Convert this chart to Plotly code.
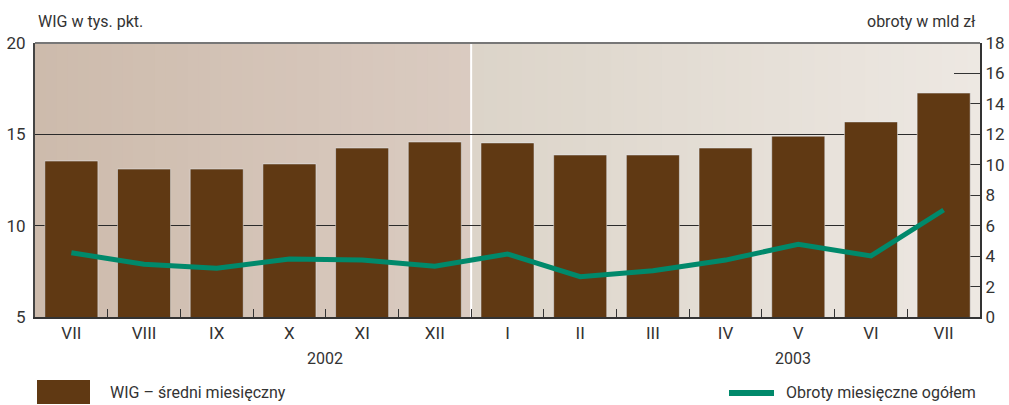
import plotly.graph_objects as go

months = ["VII", "VIII", "IX", "X", "XI", "XII", "I", "II", "III", "IV", "V", "VI", "VII "]
wig = [13.54, 13.1, 13.1, 13.38, 14.25, 14.58, 14.53, 13.87, 13.87, 14.25, 14.9, 15.68, 17.26]
obroty = [4.22, 3.46, 3.2, 3.81, 3.74, 3.33, 4.14, 2.65, 3.04, 3.74, 4.78, 4.01, 7.03]
years = ["2002", "2003"]
FONT = "Roboto, sans-serif"
TXT = "#333333"

W, H = 1009, 405
L, R, T, B = 35, 29, 43, 88

fig = go.Figure()
fig.add_trace(go.Bar(x=list(range(13)), y=wig, marker_color="#603913", width=0.73,
                     name="WIG – średni miesięczny", yaxis="y"))
fig.add_trace(go.Scatter(x=list(range(13)), y=obroty, mode="lines",
                         line=dict(color="#00896b", width=5), yaxis="y2",
                         name="Obroty miesięczne ogółem"))

shapes = []
def lerp(a, b, t):
    return tuple(round(a[i] + (b[i] - a[i]) * t) for i in range(3))

halves = [(-0.5, 5.5, (205, 187, 172), (218, 203, 193)),
          (5.5, 12.5, (220, 212, 201), (237, 232, 226))]
N = 40
for x0, x1, c0, c1 in halves:
    for i in range(N):
        c = lerp(c0, c1, i / (N - 1))
        shapes.append(dict(type="rect", xref="x", yref="paper",
                           x0=x0 + (x1 - x0) * i / N, x1=x0 + (x1 - x0) * (i + 1) / N + 0.01,
                           y0=0, y1=1, fillcolor="rgb(%d,%d,%d)" % c, line_width=0, layer="below"))
shapes.append(dict(type="line", xref="x", yref="paper", x0=5.5, x1=5.5, y0=0, y1=1,
                   line=dict(color="white", width=2), layer="below"))
shapes.append(dict(type="line", xref="paper", yref="paper", x0=0, x1=1, y0=1, y1=1,
                   line=dict(color="#777777", width=2)))
pw = W - L - R
ph = H - T - B
def px(xp):
    return (xp - L) / pw
def py(yp):
    return (H - B - yp) / ph
shapes.append(dict(type="rect", xref="paper", yref="paper", x0=px(37), x1=px(90), y0=py(404), y1=py(380),
                   fillcolor="#603913", line_width=0))
shapes.append(dict(type="line", xref="paper", yref="paper", x0=px(729), x1=px(774), y0=py(393), y1=py(393),
                   line=dict(color="#00896b", width=6)))

FS = 16
annotations = [
    dict(text="WIG w tys. pkt.", x=px(36), y=py(22), xref="paper", yref="paper", xanchor="left", yanchor="middle",
         showarrow=False, font=dict(size=FS, color=TXT, family=FONT)),
    dict(text="obroty w mld zł", x=px(978), y=py(22), xref="paper", yref="paper", xanchor="right", yanchor="middle",
         showarrow=False, font=dict(size=FS, color=TXT, family=FONT)),
    dict(text=years[0], x=px(325), y=py(358), xref="paper", yref="paper", xanchor="center", yanchor="middle",
         showarrow=False, font=dict(size=FS, color=TXT, family=FONT)),
    dict(text=years[1], x=px(793), y=py(358), xref="paper", yref="paper", xanchor="center", yanchor="middle",
         showarrow=False, font=dict(size=FS, color=TXT, family=FONT)),
    dict(text="WIG – średni miesięczny", x=px(108), y=py(393), xref="paper", yref="paper", xanchor="left",
         yanchor="middle", showarrow=False, font=dict(size=FS, color=TXT, family=FONT)),
    dict(text="Obroty miesięczne ogółem", x=px(978), y=py(393), xref="paper", yref="paper", xanchor="right",
         yanchor="middle", showarrow=False, font=dict(size=FS, color=TXT, family=FONT)),
]

fig.update_layout(
    width=W, height=H, margin=dict(l=L, r=R, t=T, b=B, autoexpand=False),
    paper_bgcolor="white", plot_bgcolor="#d8cabf",
    showlegend=False, bargap=0.27,
    font=dict(family=FONT, size=17, color=TXT),
    xaxis=dict(range=[-0.5, 12.5], tickmode="array", tickvals=list(range(13)), ticktext=[m.strip() for m in months],
               showgrid=False, showline=True, linecolor="#333333", linewidth=2,
               ticks="", zeroline=False, fixedrange=True, automargin=False),
    yaxis=dict(range=[5, 20], tickvals=[5, 10, 15, 20], showgrid=True, gridcolor="#2b2b2b", gridwidth=1,
               showline=True, linecolor="#444444", linewidth=2, ticks="", zeroline=False,
               ticklabelstandoff=4, automargin=False),
    yaxis2=dict(range=[0, 18], dtick=2, overlaying="y", side="right", showgrid=False,
                showline=True, linecolor="#333333", linewidth=2, ticks="inside", ticklen=26,
                tickcolor="#333333", tickwidth=1, layer="below traces", zeroline=False, automargin=False),
    shapes=shapes, annotations=annotations,
)
fig.update_layout(xaxis2=dict(range=[-0.5, 12.5], overlaying="x", side="bottom", tickmode="array",
                              tickvals=[i + 0.5 for i in range(12)], ticktext=[""] * 12, ticks="inside",
                              ticklen=8, tickcolor="#333333", tickwidth=1, showgrid=False, showline=False,
                              zeroline=False, automargin=False))
fig.add_trace(go.Scatter(x=[0], y=[0], xaxis="x2", yaxis="y2", mode="markers", marker=dict(opacity=0),
                         hoverinfo="skip"))
fig.write_html("out.html", config={"displayModeBar": False},
               post_script="document.body.style.margin='0';document.body.style.overflow='hidden';")
